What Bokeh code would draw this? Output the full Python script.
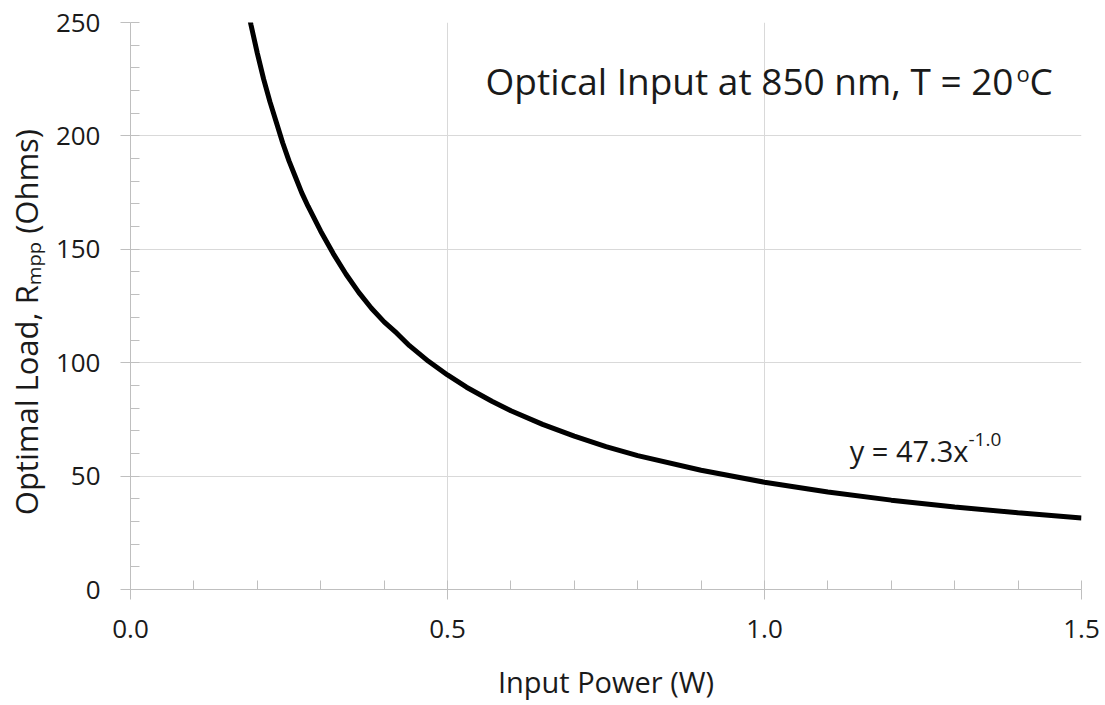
from bokeh.plotting import figure
from bokeh.models import Range1d, SingleIntervalTicker, PrintfTickFormatter, Label
from bokeh.embed import file_html
from bokeh.resources import INLINE

# Data (Input Power W, Optimal Load Ohms)
power_w = [0.18, 0.19, 0.20, 0.21, 0.22, 0.23, 0.24, 0.25, 0.26, 0.27, 0.28, 0.30,
           0.32, 0.34, 0.36, 0.38, 0.40, 0.42, 0.44, 0.47, 0.50, 0.53, 0.57, 0.60,
           0.65, 0.70, 0.75, 0.80, 0.90, 1.00, 1.10, 1.20, 1.30, 1.40, 1.50]
load_ohm = [263, 249, 236.5, 225, 215, 206, 197, 189, 182, 175, 169, 158,
            148, 139, 131, 124, 118, 113, 107.5, 100.6, 94.6, 89.2, 83, 78.8,
            72.8, 67.6, 63, 59, 52.6, 47.3, 43, 39.4, 36.4, 33.8, 31.5]

title_main = "Optical Input at 850 nm, T = 20"
title_sup = "o"
title_end = "C"
fit_main = "y = 47.3x"
fit_sup = "-1.0"
xlabel = "Input Power (W)"
ylabel = "Optimal Load, R\u2098\u209a\u209a (Ohms)" + "\u00a0" * 4

FONT = "Open Sans"
TXT = "#1a1a1a"
GRID = "#d9d9d9"
AX = "#bfbfbf"

FL, FT, FW, FH = 130, 22, 951, 567
X0, X1, Y0, Y1 = 0.0, 1.5, 0.0, 250.0

def px2x(px):
    return X0 + (px - FL) / FW * (X1 - X0)

def py2y(py):
    return Y0 + (FT + FH - py) / FH * (Y1 - Y0)

p = figure(frame_width=FW, frame_height=FH, min_border_left=FL, min_border_right=19,
           min_border_top=FT, min_border_bottom=110,
           x_range=Range1d(X0, X1), y_range=Range1d(Y0, Y1),
           output_backend="svg", toolbar_location=None, background_fill_color="white")
p.outline_line_color = None

p.line(power_w, load_ohm, line_color="black", line_width=5)

p.xaxis.ticker = SingleIntervalTicker(interval=0.5, num_minor_ticks=5)
p.yaxis.ticker = SingleIntervalTicker(interval=50, num_minor_ticks=5)
p.xgrid.ticker = p.xaxis.ticker
p.ygrid.ticker = p.yaxis.ticker
p.xaxis.formatter = PrintfTickFormatter(format="%.1f")
p.yaxis.formatter = PrintfTickFormatter(format="%d")
for ax in (p.xaxis, p.yaxis):
    ax.axis_line_color = AX
    ax.axis_line_width = 1
    ax.major_tick_line_color = AX
    ax.minor_tick_line_color = AX
    ax.major_tick_out = 10
    ax.major_tick_in = 0
    ax.minor_tick_out = 0
    ax.minor_tick_in = 9
    ax.major_label_text_font = FONT
    ax.major_label_text_font_size = "26px"
    ax.major_label_text_color = TXT
    ax.axis_label_text_font = FONT
    ax.axis_label_text_font_style = "normal"
    ax.axis_label_text_color = TXT
p.xaxis.major_label_standoff = 20
p.yaxis.major_label_standoff = 20
p.xaxis.axis_label = xlabel
p.xaxis.axis_label_text_font_size = "29px"
p.xaxis.axis_label_standoff = 21
p.yaxis.axis_label = ylabel
p.yaxis.axis_label_text_font_size = "31px"
p.yaxis.axis_label_standoff = 6
for g in (p.xgrid, p.ygrid):
    g.grid_line_color = GRID
    g.grid_line_width = 1

def lab(text, px, py, size, align="left", baseline="alphabetic"):
    p.add_layout(Label(x=px2x(px), y=py2y(py), text=text, text_font=FONT,
                       text_font_size=size, text_color=TXT, text_align=align,
                       text_baseline=baseline))

# title
lab(title_main, 1013, 80, "37px", align="right")
lab(title_sup, 1016, 72, "22px")
lab(title_end, 1029, 80, "37px")
# fit equation
lab(fit_main, 968, 450, "29px", align="right")
lab(fit_sup, 968, 439, "19px")

open("out.html", "w").write(file_html(p, INLINE))
